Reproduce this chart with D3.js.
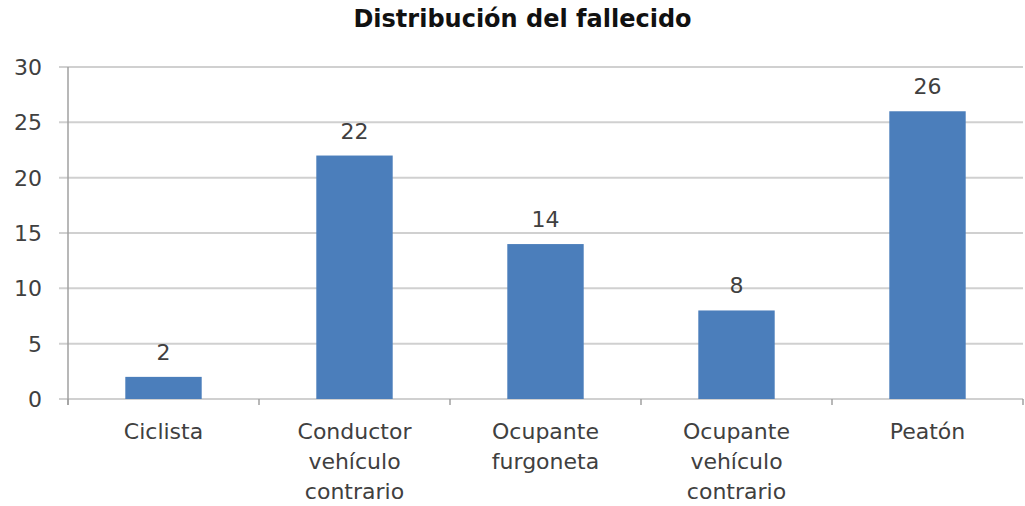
<!DOCTYPE html>
<html>
<head>
<meta charset="utf-8">
<script src="https://cdn.jsdelivr.net/npm/d3@7"></script>
<style>
  body { margin: 0; background: #fff; }
  text { font-family: "DejaVu Sans", sans-serif; fill: #404040; }
</style>
</head>
<body>
<div id="chart"></div>
<script>
// data
var categories = [
    ["Ciclista"],
    ["Conductor", "vehículo", "contrario"],
    ["Ocupante", "furgoneta"],
    ["Ocupante", "vehículo", "contrario"],
    ["Peatón"]
];
var values = [2, 22, 14, 8, 26];
var yTicks = [0, 5, 10, 15, 20, 25, 30];
var title = "Distribución del fallecido";

var W = 1025, H = 506;
var margin = { top: 67, right: 2, bottom: 107, left: 68 };
var width = W - margin.left - margin.right,
    height = H - margin.top - margin.bottom;

var svg = d3.select("#chart")
    .append("svg")
    .attr("width", W)
    .attr("height", H)
    .append("g")
    .attr("transform", "translate(" + margin.left + "," + margin.top + ")");

var x = d3.scaleBand()
    .domain(d3.range(values.length))
    .range([0, width])
    .paddingInner(0.6)
    .paddingOuter(0.3);

var y = d3.scaleLinear()
    .domain([0, 30])
    .range([height, 0]);

// gridlines
svg.append("g")
    .selectAll("line")
    .data(yTicks)
    .enter()
    .append("line")
    .attr("x1", -9)
    .attr("x2", width)
    .attr("y1", d => y(d))
    .attr("y2", d => y(d))
    .attr("stroke", "#d0d0d0")
    .attr("stroke-width", 2);

// y axis line
svg.append("line")
    .attr("x1", 0).attr("x2", 0)
    .attr("y1", 0).attr("y2", height + 6)
    .attr("stroke", "#a0a0a0")
    .attr("stroke-width", 1.5);

// y labels
svg.append("g")
    .selectAll("text")
    .data(yTicks)
    .enter()
    .append("text")
    .attr("x", -26)
    .attr("y", d => y(d))
    .attr("dy", "0.36em")
    .attr("text-anchor", "end")
    .attr("font-size", "22px")
    .text(d => d);

// x axis category boundary ticks
var step = width / values.length;
svg.append("g")
    .selectAll("line")
    .data(d3.range(values.length + 1))
    .enter()
    .append("line")
    .attr("x1", d => d * step)
    .attr("x2", d => d * step)
    .attr("y1", height)
    .attr("y2", height + 6)
    .attr("stroke", "#a0a0a0")
    .attr("stroke-width", 1.5);

// bars
svg.append("g")
    .selectAll("rect")
    .data(values)
    .enter()
    .append("rect")
    .attr("x", (d, i) => x(i))
    .attr("y", d => y(d))
    .attr("width", x.bandwidth())
    .attr("height", d => height - y(d))
    .attr("fill", "#4b7ebb");

// value labels
svg.append("g")
    .selectAll("text")
    .data(values)
    .enter()
    .append("text")
    .attr("x", (d, i) => x(i) + x.bandwidth() / 2)
    .attr("y", d => y(d) - 17)
    .attr("text-anchor", "middle")
    .attr("font-size", "22px")
    .text(d => d);

// category labels
var cat = svg.append("g")
    .selectAll("text")
    .data(categories)
    .enter()
    .append("text")
    .attr("x", (d, i) => x(i) + x.bandwidth() / 2)
    .attr("y", height + 40)
    .attr("text-anchor", "middle")
    .attr("font-size", "22px");

cat.selectAll("tspan")
    .data(d => d)
    .enter()
    .append("tspan")
    .attr("x", function () { return d3.select(this.parentNode).attr("x"); })
    .attr("dy", (d, i) => i === 0 ? 0 : 30)
    .text(d => d);

// title
svg.append("text")
    .attr("x", width / 2 - 23)
    .attr("y", -40)
    .attr("text-anchor", "middle")
    .attr("font-size", "24px")
    .attr("font-weight", "bold")
    .style("fill", "#111")
    .text(title);
</script>
</body>
</html>
